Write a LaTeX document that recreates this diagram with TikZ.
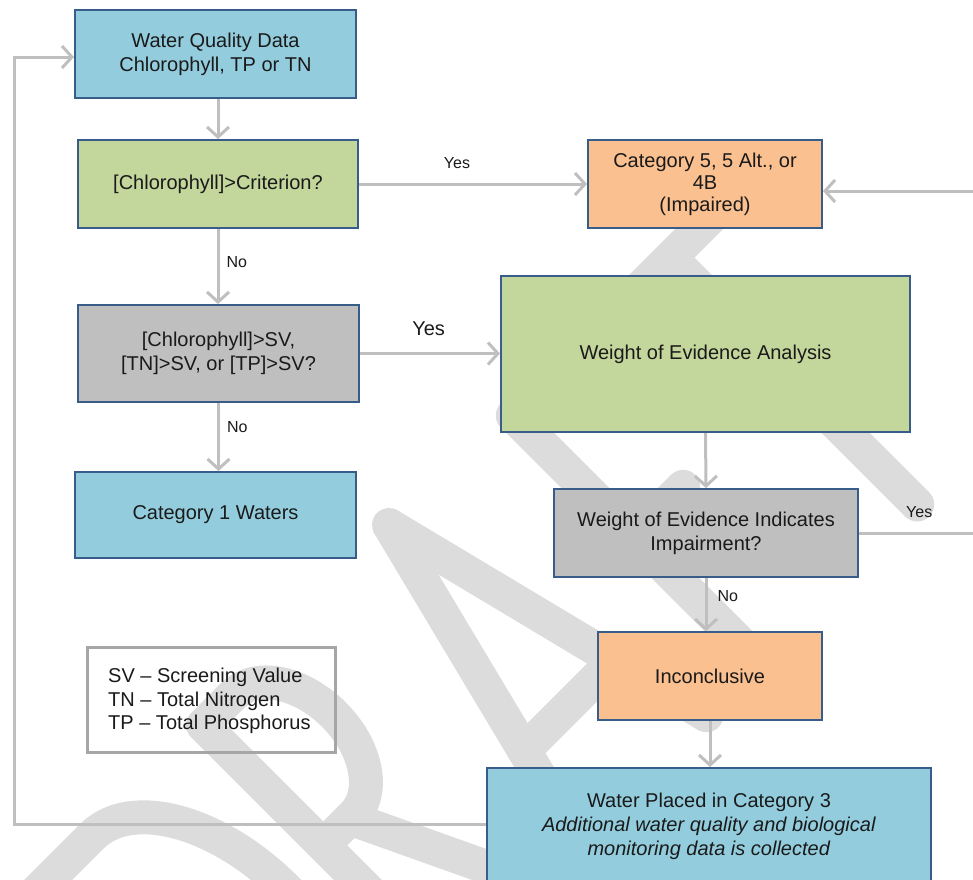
\documentclass[tikz,border=0pt]{standalone}
\usepackage{fontspec}
\setmainfont{Liberation Sans}
\usetikzlibrary{arrows.meta}
\definecolor{boxblue}{HTML}{93CDDD}
\definecolor{boxgreen}{HTML}{C3D69B}
\definecolor{boxgray}{HTML}{BFBFBF}
\definecolor{boxorange}{HTML}{FAC090}
\definecolor{boxborder}{HTML}{385D8A}
\definecolor{linegray}{HTML}{BFBFBF}
\definecolor{legendgray}{HTML}{A6A6A6}
\definecolor{wmgray}{HTML}{DCDCDC}
\definecolor{txt}{HTML}{1A1A1A}
\begin{document}
\begin{tikzpicture}[x=1pt,y=1pt,
  box/.style={draw=boxborder, line width=2pt, align=center, text=txt,
    font=\fontsize{20}{24}\selectfont, inner sep=0pt},
  conn/.style={draw=linegray, line width=3pt, line cap=butt,
    -{Straight Barb[length=10pt,width=22pt,line width=3pt]}},
  lbl/.style={font=\fontsize{16}{18}\selectfont, inner sep=0pt, text=txt},
  biglbl/.style={font=\fontsize{20}{22}\selectfont, inner sep=0pt, text=txt},
  wm/.style={draw=wmgray, line width=34pt, line cap=round, line join=round}
]
\useasboundingbox (0,0) rectangle (973,-879);
\clip (0,0) rectangle (973,-879);

% watermark "DRAFT" drawn as thick rounded strokes
\begin{scope}[shift={(377,-513)}, rotate=45]
  % D
  \draw[wm] (-540,-27) -- (-430,-27) arc[start angle=90, end angle=-90, x radius=100, y radius=174.5] -- (-540,-376) -- cycle;
  % R
  \draw[wm] (-273,-376) -- (-273,-27) -- (-230,-27) arc[start angle=90, end angle=-90, x radius=57, y radius=85] -- (-273,-197);
  \draw[wm] (-235,-197) -- (-150,-376);
  % A
  \draw[wm] (-90,-376) -- (0,-17) -- (90,-376);
  \draw[wm] (-64,-272) -- (64,-272);
  % F
  \draw[wm] (165,-376) -- (165,-27) -- (288,-27);
  \draw[wm] (165,-198) -- (235,-198);
  % T
  \draw[wm] (293,-27) -- (483,-27);
  \draw[wm] (388,-27) -- (388,-376);
\end{scope}

% boxes
\node[box, fill=boxblue, minimum width=281pt, minimum height=88pt] (wq) at (215.5,-54)
  {\raisebox{-2pt}{\parbox{277pt}{\centering Water Quality Data\\Chlorophyll, TP or TN}}};
\node[box, fill=boxgreen, minimum width=280pt, minimum height=88pt] (crit) at (218,-184)
  {[Chlorophyll]>Criterion?};
\node[box, fill=boxgray, minimum width=281pt, minimum height=97pt] (sv) at (218.5,-353.5)
  {[Chlorophyll]>SV,\\{}[TN]>SV, or [TP]>SV?};
\node[box, fill=boxblue, minimum width=281pt, minimum height=86pt] (cat1) at (215.5,-515)
  {Category 1 Waters};
\node[box, fill=boxorange, minimum width=234pt, minimum height=88pt,
  font=\fontsize{20}{22}\selectfont] (cat5) at (705,-184)
  {\raisebox{-5pt}{\parbox{230pt}{\centering Category 5, 5 Alt., or\\4B\\(Impaired)}}};
\node[box, fill=boxgreen, minimum width=409pt, minimum height=156pt] (woe) at (705.5,-354)
  {Weight of Evidence Analysis};
\node[box, fill=boxgray, minimum width=304pt, minimum height=88pt] (woei) at (706,-533)
  {Weight of Evidence Indicates\\Impairment?};
\node[box, fill=boxorange, minimum width=224pt, minimum height=88pt] (inc) at (710,-676)
  {Inconclusive};
\node[box, fill=boxblue, minimum width=444pt, minimum height=116pt] (cat3) at (709,-826)
  {Water Placed in Category 3\\\textit{Additional water quality and biological}\\\textit{monitoring data is collected}};
\node[draw=legendgray, line width=3pt, minimum width=248pt, minimum height=105pt,
  inner sep=0pt] (legend) at (211,-699.5) {};
\node[anchor=west, align=left, inner sep=0pt, text=txt,
  font=\fontsize{20}{23.3}\selectfont] (legendtext) at (108,-701)
  {SV -- Screening Value\\TN -- Total Nitrogen\\TP -- Total Phosphorus};

% connectors
\coordinate (lp) at (14,-400);
\coordinate (rp) at (990,-400);
\draw[conn] (crit.north |- wq.south) -- (crit.north);
\draw[conn] (crit.south) -- node[lbl, pos=0.44, anchor=west, xshift=7pt] (no1) {No} (crit.south |- sv.north);
\draw[conn] (sv.south) -- node[lbl, pos=0.36, anchor=west, xshift=7pt] (no2) {No} (sv.south |- cat1.north);
\draw[conn] (crit.east) -- node[lbl, pos=0.43, above=14pt] (yes1) {Yes} (cat5.west);
\draw[conn] (sv.east) -- node[biglbl, pos=0.49, above=16pt] (yes2) {Yes} (sv.east -| woe.west);
\draw[conn] (woe.south) -- (woei.north);
\draw[conn] (woei.south) -- node[lbl, pos=0.35, anchor=west, xshift=10pt] (no3) {No} (woei.south |- inc.north);
\draw[conn] (inc.south) -- (inc.south |- cat3.north);
\draw[conn] (woei.east) -- node[lbl, pos=0.46, above=14pt] (yes3) {Yes} (woei.east -| rp) |- ([yshift=-7pt]cat5.east);
\draw[conn] ([yshift=2pt]cat3.west) -| (lp) |- ([yshift=-3pt]wq.west);
\end{tikzpicture}
\end{document}
